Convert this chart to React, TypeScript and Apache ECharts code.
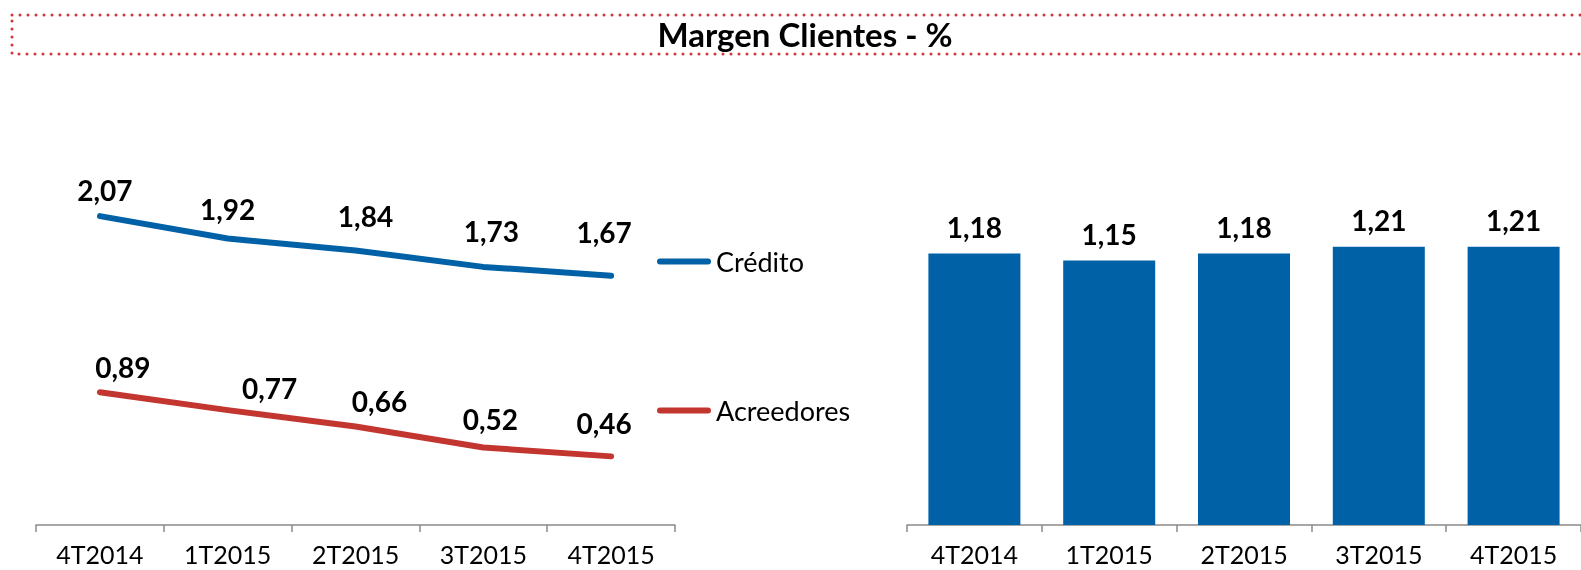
import React, { useEffect, useRef } from "react";
import * as echarts from "echarts";

const categories = ["4T2014", "1T2015", "2T2015", "3T2015", "4T2015"];
const credito = [2.07, 1.92, 1.84, 1.73, 1.67];
const acreedores = [0.89, 0.77, 0.66, 0.52, 0.46];
const margen = [1.18, 1.15, 1.18, 1.21, 1.21];

const BLUE = "#0061A7";
const RED = "#C3352F";
const AXIS = "#8A8A8A";
const FONT = "Lato, 'Noto Sans', sans-serif";

// label placement tweaks (style only, not data)
const creditoLabelOffsets = [[5, -26], [0, -30], [10, -34], [8, -36], [-7, -44]];
const acreedoresLabelOffsets = [[23, -25], [42, -22], [24, -26], [7, -28], [-7, -33]];

const fmt = (v: number) => v.toFixed(2).replace(".", ",");

export default function App() {
  const ref = useRef<HTMLDivElement>(null);
  useEffect(() => {
    if (!ref.current) return;
    const chart = echarts.init(ref.current, null, { renderer: "svg" });
    const lineData = (vals: number[], offs: number[][]) =>
      vals.map((v, i) => ({
        value: v,
        label: { offset: offs[i] },
      }));
    const labelStyle = {
      show: true,
      position: "inside",
      formatter: (p: any) => fmt(p.value),
      color: "#000",
      fontFamily: FONT,
      fontWeight: "bold",
      fontSize: 28,
    };
    const axisCommon = {
      type: "category",
      data: categories,
      boundaryGap: true,
      axisLine: { show: true, lineStyle: { color: AXIS, width: 1.5 } },
      axisTick: { show: true, length: 7, lineStyle: { color: AXIS, width: 1.5 } },
      axisLabel: { color: "#000", fontFamily: FONT, fontSize: 25, lineHeight: 22, margin: 18 },
    };
    chart.setOption({
      animation: false,
      graphic: [
        {
          type: "rect",
          shape: { x: 12, y: 15, width: 1620, height: 39 },
          style: {
            fill: "none",
            stroke: "#D03636",
            lineWidth: 3,
            lineDash: [0, 8],
            lineCap: "round",
          },
        },
        {
          type: "text",
          x: 805,
          y: 34,
          style: {
            text: "Margen Clientes - %",
            fill: "#000",
            font: `bold 33px ${FONT}`,
            textAlign: "center",
            textVerticalAlign: "middle",
          },
        },
      ],
      legend: {
        orient: "vertical",
        left: 657,
        top: 248,
        padding: 0,
        itemWidth: 54,
        itemHeight: 6,
        itemGap: 122,
        icon: "path://M3,0 H51 A3,3 0 0 1 51,6 H3 A3,3 0 0 1 3,0 Z",
        textStyle: { color: "#000", fontFamily: FONT, fontSize: 27 },
        data: ["Crédito", "Acreedores"],
      },
      grid: [
        { left: 36, width: 639, top: 152, bottom: 45, containLabel: false },
        { left: 907, width: 690, top: 180, bottom: 45, containLabel: false },
      ],
      xAxis: [
        { ...axisCommon, gridIndex: 0 },
        { ...axisCommon, gridIndex: 1 },
      ],
      yAxis: [
        { type: "value", gridIndex: 0, min: 0, max: 2.5, show: false, splitLine: { show: false } },
        { type: "value", gridIndex: 1, min: 0, max: 1.5, show: false, splitLine: { show: false } },
      ],
      series: [
        {
          name: "Crédito",
          type: "line",
          xAxisIndex: 0,
          yAxisIndex: 0,
          data: lineData(credito, creditoLabelOffsets),
          symbol: "circle",
          symbolSize: 0.1,
          showSymbol: true,
          lineStyle: { color: BLUE, width: 6, cap: "round", join: "round" },
          itemStyle: { color: BLUE },
          label: labelStyle,
        },
        {
          name: "Acreedores",
          type: "line",
          xAxisIndex: 0,
          yAxisIndex: 0,
          data: lineData(acreedores, acreedoresLabelOffsets),
          symbol: "circle",
          symbolSize: 0.1,
          showSymbol: true,
          lineStyle: { color: RED, width: 6, cap: "round", join: "round" },
          itemStyle: { color: RED },
          label: labelStyle,
        },
        {
          name: "Margen",
          type: "bar",
          xAxisIndex: 1,
          yAxisIndex: 1,
          data: margen,
          barWidth: 92,
          itemStyle: { color: BLUE },
          label: {
            show: true,
            position: "top",
            distance: 13,
            formatter: (p: any) => fmt(p.value),
            color: "#000",
            fontFamily: FONT,
            fontWeight: "bold",
            fontSize: 28,
          },
        },
      ],
    });
    return () => chart.dispose();
  }, []);
  return (
    <div
      ref={ref}
      style={{ position: "fixed", top: 0, left: 0, width: 1581, height: 570, overflow: "hidden" }}
    />
  );
}
